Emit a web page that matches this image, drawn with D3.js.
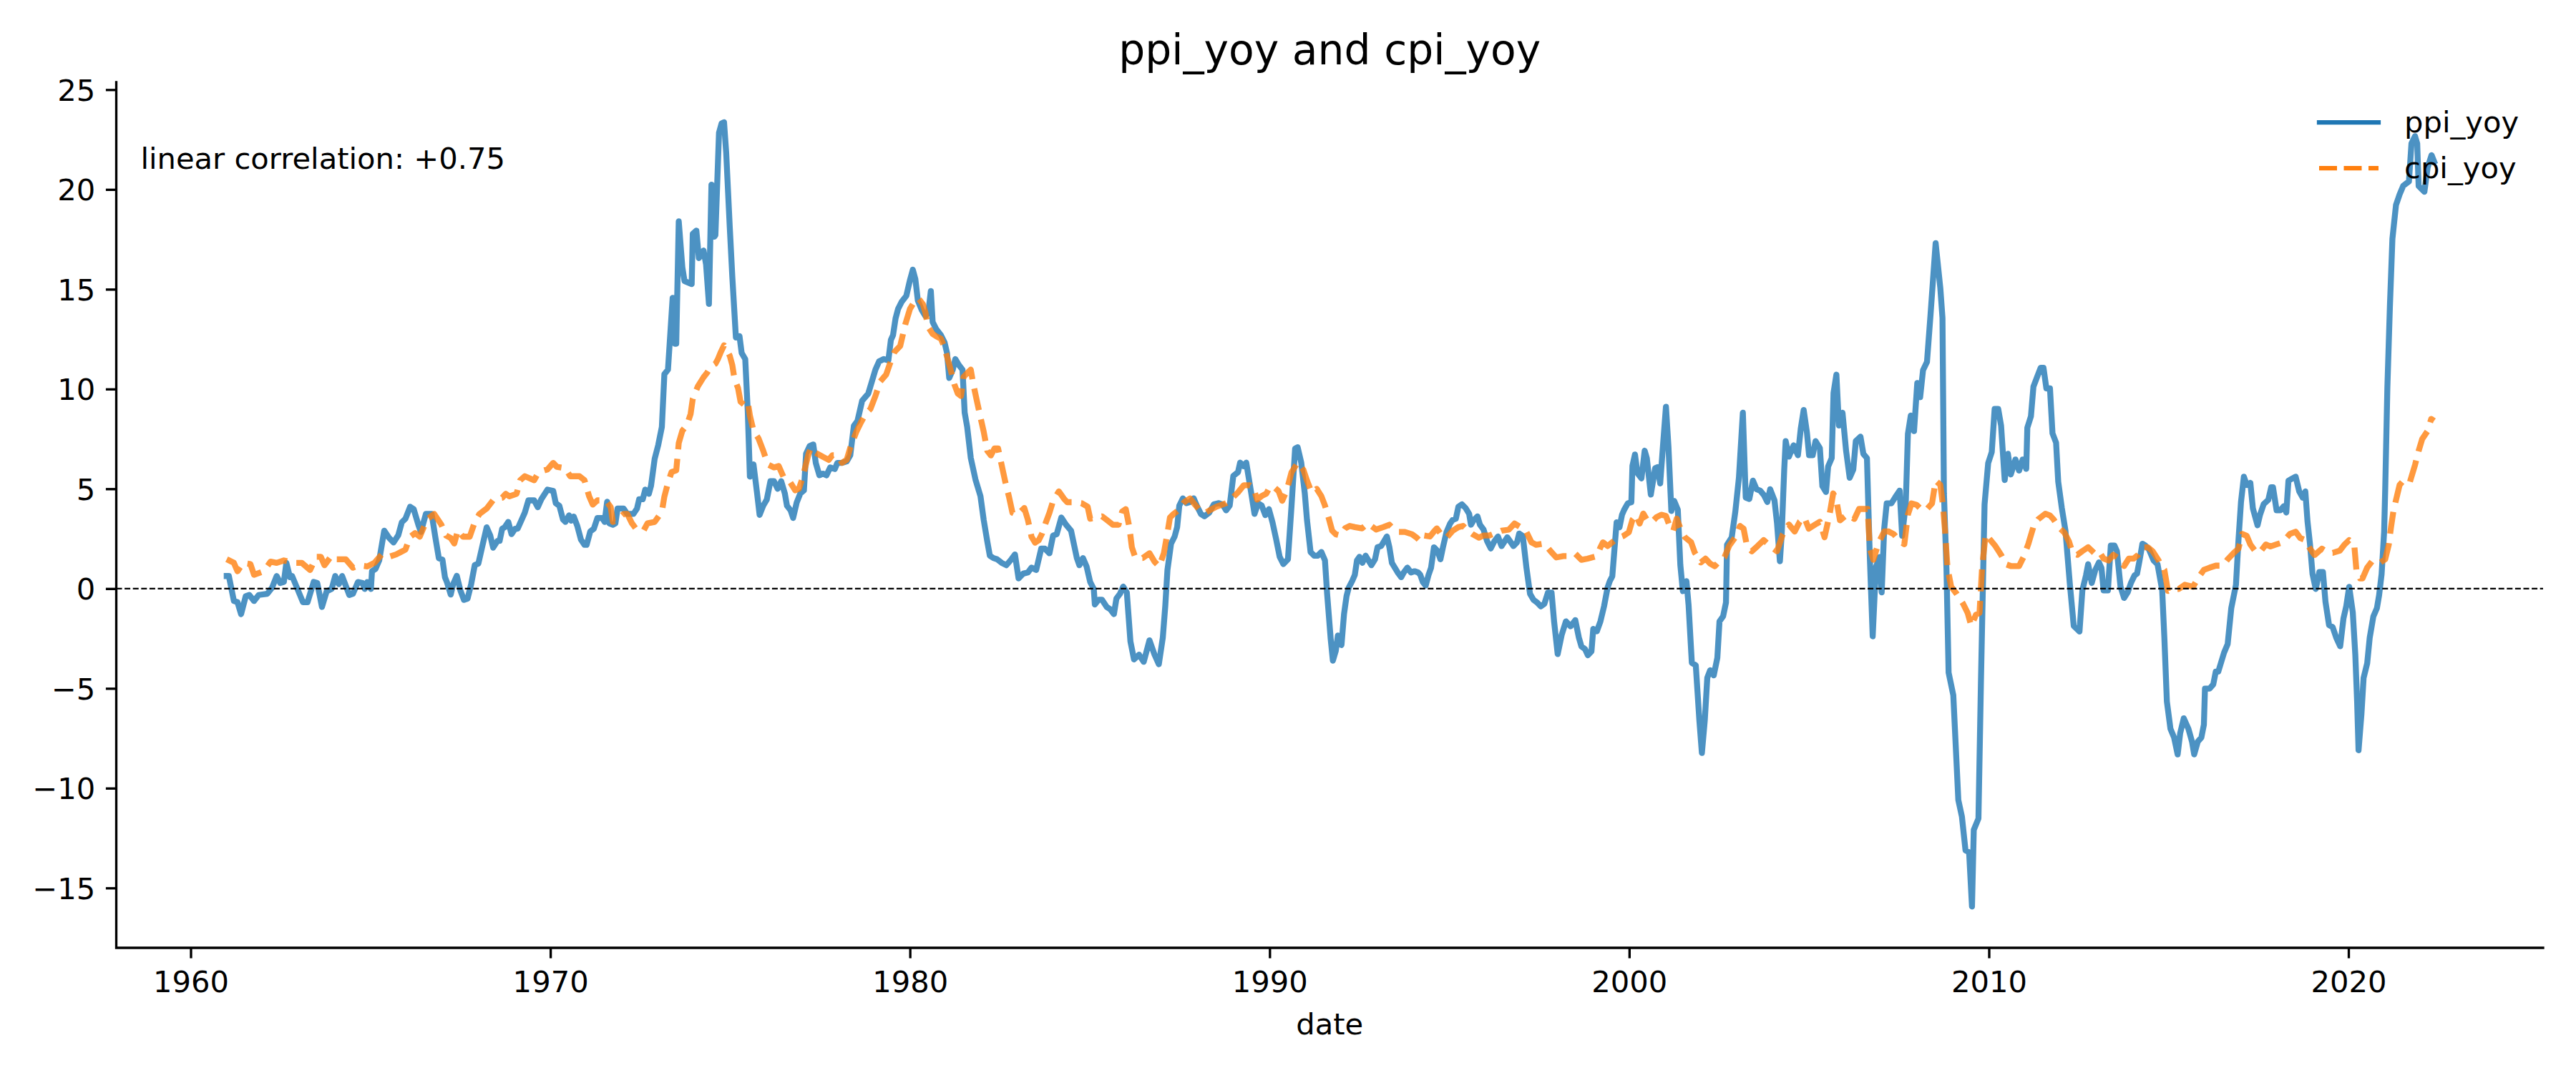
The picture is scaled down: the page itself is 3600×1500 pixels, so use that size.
<!DOCTYPE html>
<html><head><meta charset="utf-8">
<script src="https://cdn.jsdelivr.net/npm/d3@7"></script>
<style>body{margin:0;background:#fff}</style>
</head><body><svg id="c" width="3600" height="1500" style="background:#fff"></svg>
<script>
// ---- data: [fractional year, value] ----
const ppi = [
[1961.0,0.63],[1961.06,0.63],[1961.2,-0.62],[1961.3,-0.68],[1961.4,-1.28],[1961.53,-0.38],[1961.63,-0.32],[1961.76,-0.62],[1961.89,-0.32],
[1962.13,-0.26],[1962.26,0.04],[1962.39,0.63],[1962.49,0.28],[1962.59,0.33],[1962.66,1.29],[1962.76,0.57],[1962.82,0.63],
[1963.12,-0.68],[1963.25,-0.68],[1963.42,0.33],[1963.52,0.28],[1963.65,-0.92],[1963.78,-0.14],[1963.92,-0.02],
[1964.02,0.63],[1964.12,0.22],[1964.21,0.63],[1964.41,-0.32],[1964.51,-0.26],[1964.65,0.33],[1964.78,0.28],[1964.84,-0.02],[1964.91,0.33],
[1965.01,-0.02],[1965.04,0.87],[1965.14,0.99],[1965.24,1.41],[1965.38,2.90],[1965.51,2.55],[1965.64,2.31],[1965.77,2.67],[1965.87,3.32],[1965.97,3.5],
[1966.1,4.1],[1966.2,3.98],[1966.34,3.14],[1966.4,2.84],[1966.54,3.74],[1966.7,3.74],[1966.8,2.6],[1966.9,1.52],
[1967.0,1.45],[1967.07,0.57],[1967.13,0.3],[1967.23,-0.3],[1967.3,0.23],[1967.4,0.64],[1967.5,-0.1],[1967.6,-0.57],[1967.7,-0.5],[1967.8,0.23],[1967.9,1.18],
[1968.0,1.25],[1968.1,2.05],[1968.23,3.07],[1968.33,2.66],[1968.41,2.05],[1968.53,2.39],[1968.59,2.39],[1968.66,3.0],[1968.73,3.07],[1968.83,3.34],[1968.92,2.73],
[1969.02,3.0],[1969.09,3.0],[1969.29,3.81],[1969.39,4.42],[1969.55,4.42],[1969.65,4.08],[1969.75,4.48],[1969.92,4.96],
[1970.08,4.89],[1970.15,4.28],[1970.25,4.15],[1970.35,3.47],[1970.42,3.34],[1970.52,3.67],[1970.58,3.4],[1970.65,3.61],[1970.75,3.14],[1970.85,2.46],[1970.95,2.19],
[1971.01,2.19],[1971.11,2.86],[1971.21,3.0],[1971.31,3.54],[1971.44,3.54],[1971.51,3.34],[1971.58,4.35],[1971.64,3.27],[1971.74,3.2],[1971.81,3.27],[1971.87,4.01],
[1972.04,4.01],[1972.14,3.74],[1972.31,3.74],[1972.41,4.01],[1972.47,4.48],[1972.57,4.48],[1972.64,4.96],[1972.74,4.75],[1972.8,5.16],[1972.9,6.5],
[1973.0,7.2],[1973.1,8.1],[1973.17,10.74],[1973.27,10.97],[1973.4,14.57],[1973.47,12.27],[1973.5,12.27],[1973.57,18.4],[1973.67,16.1],[1973.73,15.41],[1973.93,15.26],[1973.96,17.78],
[1974.06,17.94],[1974.13,16.56],[1974.26,16.94],[1974.33,16.25],[1974.41,14.26],[1974.48,20.24],[1974.56,17.63],[1974.59,17.71],[1974.69,22.84],[1974.76,23.3],[1974.83,23.37],[1974.89,21.84],[1974.99,18.09],
[1975.06,15.64],[1975.16,12.58],[1975.26,12.65],[1975.32,11.81],[1975.42,11.5],[1975.49,8.9],[1975.55,5.61],[1975.65,6.22],[1975.75,4.77],[1975.82,3.69],[1975.92,4.15],
[1976.02,4.46],[1976.12,5.38],[1976.22,5.38],[1976.32,5.0],[1976.42,5.38],[1976.52,4.77],[1976.58,4.15],[1976.68,3.92],[1976.75,3.54],[1976.85,4.31],[1976.95,4.77],
[1977.05,4.92],[1977.11,6.76],[1977.21,7.14],[1977.31,7.22],[1977.38,6.3],[1977.48,5.68],[1977.58,5.76],[1977.68,5.68],[1977.78,6.07],[1977.91,5.99],[1977.98,6.3],
[1978.11,6.3],[1978.24,6.37],[1978.34,6.68],[1978.44,8.16],[1978.54,8.4],[1978.67,9.41],[1978.84,9.77],[1978.94,10.37],
[1979.04,10.97],[1979.14,11.38],[1979.27,11.5],[1979.4,11.44],[1979.47,12.46],[1979.53,12.7],[1979.6,13.54],[1979.67,14.01],[1979.77,14.37],[1979.9,14.67],
[1980.0,15.45],[1980.08,15.98],[1980.15,15.51],[1980.22,14.43],[1980.33,13.95],[1980.43,13.65],[1980.51,13.83],[1980.58,14.91],[1980.63,13.36],[1980.73,13.0],[1980.86,12.7],[1980.96,12.34],
[1981.03,11.8],[1981.09,10.55],[1981.19,10.97],[1981.26,11.5],[1981.36,11.2],[1981.46,10.97],[1981.52,8.82],[1981.59,8.1],[1981.69,6.55],[1981.82,5.47],[1981.96,4.63],
[1982.05,3.44],[1982.15,2.36],[1982.22,1.65],[1982.32,1.53],[1982.42,1.47],[1982.55,1.29],[1982.68,1.17],[1982.82,1.47],[1982.92,1.71],
[1983.02,0.51],[1983.15,0.75],[1983.28,0.81],[1983.38,1.05],[1983.51,0.93],[1983.65,2.0],[1983.75,2.0],[1983.88,1.77],[1983.98,2.66],
[1984.08,2.72],[1984.21,3.56],[1984.34,3.2],[1984.48,2.9],[1984.64,1.53],[1984.71,1.17],[1984.81,1.53],[1984.91,1.11],
[1985.01,0.33],[1985.11,-0.02],[1985.14,-0.8],[1985.24,-0.56],[1985.34,-0.56],[1985.47,-0.92],[1985.57,-1.04],[1985.67,-1.28],[1985.74,-0.5],[1985.84,-0.26],[1985.93,0.1],
[1986.03,-0.2],[1986.13,-2.65],[1986.23,-3.55],[1986.37,-3.31],[1986.5,-3.67],[1986.66,-2.59],[1986.8,-3.31],[1986.92,-3.79],
[1987.03,-2.47],[1987.1,-0.86],[1987.16,0.93],[1987.26,2.25],[1987.36,2.61],[1987.43,3.08],[1987.49,4.16],[1987.59,4.52],[1987.69,4.28],[1987.79,4.34],[1987.89,4.52],[1987.99,4.1],
[1988.09,3.74],[1988.19,3.62],[1988.32,3.8],[1988.45,4.22],[1988.59,4.28],[1988.69,4.22],[1988.79,3.92],[1988.89,4.16],[1988.99,5.65],
[1989.12,5.83],[1989.18,6.31],[1989.28,6.13],[1989.35,6.31],[1989.48,4.88],[1989.58,3.74],[1989.68,4.28],[1989.78,4.16],[1989.88,3.68],[1989.98,3.98],
[1990.08,3.32],[1990.18,2.49],[1990.28,1.59],[1990.38,1.23],[1990.51,1.47],[1990.61,4.16],[1990.71,7.02],[1990.78,7.08],[1990.88,6.31],[1990.98,4.75],
[1991.04,3.44],[1991.14,1.83],[1991.24,1.65],[1991.34,1.65],[1991.44,1.83],[1991.54,1.41],[1991.6,-0.26],[1991.7,-2.53],[1991.76,-3.61],[1991.84,-3.13],[1991.9,-2.35],
[1992.0,-2.83],[1992.07,-1.28],[1992.14,-0.38],[1992.2,0.04],[1992.3,0.39],[1992.37,0.69],[1992.43,1.41],[1992.5,1.59],[1992.58,1.29],[1992.67,1.65],[1992.73,1.47],[1992.83,1.17],[1992.93,1.47],
[1993.0,2.07],[1993.1,2.13],[1993.16,2.31],[1993.26,2.61],[1993.33,2.07],[1993.4,1.29],[1993.46,1.11],[1993.56,0.81],[1993.66,0.57],[1993.73,0.81],[1993.83,1.05],[1993.93,0.81],
[1994.03,0.87],[1994.13,0.81],[1994.19,0.69],[1994.26,0.33],[1994.34,0.15],[1994.42,0.69],[1994.49,1.05],[1994.57,2.07],[1994.67,1.89],[1994.75,1.47],[1994.82,2.07],[1994.92,2.84],
[1995.02,3.26],[1995.09,3.44],[1995.18,3.5],[1995.25,4.1],[1995.35,4.22],[1995.45,4.04],[1995.55,3.74],[1995.6,3.2],[1995.68,3.44],[1995.78,3.62],[1995.85,3.2],[1995.95,2.96],
[1996.05,2.37],[1996.15,2.01],[1996.25,2.37],[1996.35,2.61],[1996.45,2.13],[1996.61,2.57],[1996.78,2.13],[1996.88,2.32],[1996.94,2.76],
[1997.04,2.63],[1997.14,1.06],[1997.24,-0.26],[1997.34,-0.57],[1997.44,-0.7],[1997.54,-0.89],[1997.64,-0.76],[1997.74,-0.2],[1997.84,-0.2],[1997.91,-1.64],
[1998.01,-3.28],[1998.12,-2.33],[1998.24,-1.64],[1998.37,-1.89],[1998.5,-1.58],[1998.6,-2.46],[1998.67,-2.9],[1998.77,-3.03],[1998.85,-3.34],[1998.95,-3.15],
[1999.0,-2.02],[1999.1,-2.14],[1999.2,-1.64],[1999.3,-0.89],[1999.4,0.06],[1999.46,0.37],[1999.53,0.62],[1999.6,2.19],[1999.65,3.32],[1999.73,3.07],[1999.8,3.7],[1999.86,3.95],[1999.96,4.27],
[2000.06,4.33],[2000.09,6.15],[2000.16,6.72],[2000.23,5.78],[2000.34,5.52],[2000.43,6.91],[2000.49,6.53],[2000.6,4.71],[2000.72,6.03],[2000.79,6.09],[2000.86,5.27],[2000.94,7.22],
[2001.02,9.11],[2001.09,7.1],[2001.17,3.89],[2001.25,4.39],[2001.35,3.95],[2001.42,1.19],[2001.49,-0.13],[2001.59,0.37],[2001.65,-0.83],[2001.74,-3.72],[2001.85,-3.84],[2001.95,-6.61],
[2002.02,-8.24],[2002.1,-6.61],[2002.17,-4.47],[2002.25,-4.09],[2002.35,-4.35],[2002.45,-3.47],[2002.51,-1.64],[2002.61,-1.39],[2002.69,-0.7],[2002.72,2.2],[2002.85,2.57],[2002.95,3.85],
[2003.05,5.55],[2003.16,8.81],[2003.24,4.56],[2003.34,4.49],[2003.44,5.41],[2003.54,4.98],[2003.64,4.91],[2003.74,4.7],[2003.84,4.34],[2003.92,4.98],
[2004.04,4.42],[2004.11,3.28],[2004.19,1.37],[2004.24,2.72],[2004.31,5.97],[2004.35,7.39],[2004.44,6.61],[2004.57,7.18],[2004.69,6.68],[2004.77,8.03],[2004.85,8.95],[2004.94,7.82],
[2005.0,6.68],[2005.1,6.68],[2005.18,7.39],[2005.3,7.04],[2005.37,5.13],[2005.47,4.84],[2005.53,6.12],[2005.63,6.54],[2005.68,9.8],[2005.76,10.72],[2005.83,8.17],[2005.93,8.81],
[2006.03,6.9],[2006.13,5.55],[2006.23,5.97],[2006.3,7.39],[2006.43,7.61],[2006.51,6.75],[2006.61,6.54],[2006.69,1.58],[2006.77,-2.39],[2006.86,1.09],[2006.96,1.58],
[2007.02,-0.19],[2007.09,3.0],[2007.16,4.27],[2007.29,4.27],[2007.39,4.56],[2007.52,4.91],[2007.59,2.64],[2007.69,4.27],[2007.75,7.75],[2007.83,8.67],[2007.92,7.89],
[2008.01,10.3],[2008.09,9.59],[2008.17,10.94],[2008.28,11.36],[2008.38,13.77],[2008.52,17.31],[2008.65,15.05],[2008.71,13.56],[2008.75,4.78],[2008.82,1.03],[2008.88,-4.21],
[2009.01,-5.34],[2009.15,-10.59],[2009.25,-11.43],[2009.35,-13.12],[2009.45,-13.21],[2009.53,-15.93],[2009.58,-12.09],[2009.71,-11.52],[2009.78,-4.59],[2009.88,4.22],[2009.98,6.28],
[2010.08,6.84],[2010.16,9.0],[2010.26,9.0],[2010.34,8.16],[2010.44,5.44],[2010.53,6.75],[2010.61,5.72],[2010.74,6.47],[2010.84,5.91],[2010.94,6.47],
[2011.04,6.0],[2011.07,8.06],[2011.17,8.63],[2011.24,10.12],[2011.34,10.59],[2011.44,11.06],[2011.52,11.06],[2011.6,10.03],[2011.7,10.03],[2011.77,7.78],[2011.87,7.31],[2011.93,5.35],
[2012.03,4.03],[2012.13,2.91],[2012.25,0.28],[2012.36,-1.87],[2012.52,-2.15],[2012.6,-0.09],[2012.7,0.66],[2012.76,1.22],[2012.86,0.28],[2012.96,0.94],
[2013.06,1.31],[2013.13,1.03],[2013.19,-0.09],[2013.31,-0.09],[2013.39,2.16],[2013.49,2.16],[2013.56,1.88],[2013.66,0.1],[2013.76,-0.47],[2013.86,-0.19],[2013.95,0.28],
[2014.05,0.66],[2014.12,0.75],[2014.19,1.41],[2014.27,2.25],[2014.35,2.16],[2014.45,1.97],[2014.58,1.41],[2014.69,1.22],[2014.82,-0.09],[2014.88,-2.46],[2014.95,-5.65],
[2015.05,-7.03],[2015.15,-7.46],[2015.25,-8.31],[2015.32,-7.25],[2015.42,-6.5],[2015.55,-7.03],[2015.65,-7.67],[2015.71,-8.31],[2015.81,-7.67],[2015.91,-7.46],[2015.98,-6.82],
[2016.01,-5.01],[2016.14,-5.01],[2016.24,-4.8],[2016.31,-4.16],[2016.38,-4.16],[2016.54,-3.21],[2016.64,-2.78],[2016.74,-0.98],[2016.87,0.19],[2016.94,2.43],
[2017.01,4.34],[2017.09,5.61],[2017.17,5.19],[2017.27,5.3],[2017.34,4.02],[2017.47,3.17],[2017.54,3.7],[2017.64,4.23],[2017.77,4.45],[2017.85,5.08],[2017.9,5.08],
[2018.0,3.92],[2018.1,3.92],[2018.2,4.13],[2018.27,3.81],[2018.33,5.4],[2018.43,5.51],[2018.53,5.61],[2018.63,4.87],[2018.73,4.55],[2018.8,4.87],[2018.86,3.38],[2018.93,2.22],
[2019.0,0.73],[2019.09,-0.02],[2019.19,0.83],[2019.29,0.83],[2019.36,-0.66],[2019.46,-1.83],[2019.56,-1.93],[2019.66,-2.46],[2019.77,-2.89],[2019.86,-1.51],[2019.94,-0.87],
[2020.02,0.09],[2020.12,-1.19],[2020.19,-3.31],[2020.24,-5.65],[2020.28,-8.1],[2020.36,-6.29],[2020.42,-4.48],[2020.52,-3.74],[2020.59,-2.46],[2020.69,-1.4],[2020.79,-0.98],[2020.85,-0.34],[2020.92,0.73],[2020.99,2.85],
[2021.02,4.98],[2021.08,10.08],[2021.15,14.12],[2021.22,17.52],[2021.32,19.22],[2021.42,19.75],[2021.52,20.18],[2021.68,20.4],[2021.75,22.3],[2021.85,22.67],[2021.91,22.3],[2021.95,20.17],
[2022.11,19.88],[2022.2,21.1],[2022.31,21.72],[2022.38,21.4]
];
const cpi = [
[1961.0,1.47],[1961.2,1.29],[1961.3,0.87],[1961.46,1.29],[1961.66,1.23],[1961.76,0.69],
[1962.03,0.87],[1962.22,1.35],[1962.39,1.29],[1962.59,1.41],[1962.72,1.35],[1962.86,1.29],
[1963.09,1.29],[1963.32,0.93],[1963.49,1.59],[1963.62,1.59],[1963.72,1.17],[1963.92,1.65],
[1964.05,1.47],[1964.31,1.47],[1964.51,1.05],[1964.68,1.17],[1964.91,1.11],
[1965.11,1.29],[1965.31,1.71],[1965.51,1.59],[1965.71,1.71],[1965.84,1.83],[1965.97,1.95],
[1966.1,2.6],[1966.24,2.78],[1966.37,2.6],[1966.57,3.47],[1966.77,3.74],[1966.97,3.2],
[1967.1,2.66],[1967.23,2.53],[1967.33,2.26],[1967.43,2.93],[1967.57,2.6],[1967.76,2.6],[1967.9,3.34],
[1968.03,3.74],[1968.23,4.01],[1968.43,4.48],[1968.66,4.55],[1968.76,4.75],[1968.86,4.62],
[1969.06,4.75],[1969.16,5.43],[1969.29,5.63],[1969.55,5.43],[1969.65,5.76],[1969.79,5.9],[1969.92,5.97],
[1970.08,6.3],[1970.18,6.1],[1970.42,6.03],[1970.55,5.63],[1970.81,5.63],[1970.95,5.43],
[1971.08,4.62],[1971.18,4.21],[1971.31,4.42],[1971.54,4.42],[1971.68,4.08],[1971.74,3.34],[1971.87,3.47],
[1972.04,3.74],[1972.14,3.74],[1972.27,3.27],[1972.41,2.93],[1972.6,2.93],[1972.7,3.27],[1972.9,3.34],
[1973.1,3.85],[1973.17,4.61],[1973.27,5.3],[1973.37,5.84],[1973.5,5.92],[1973.57,7.29],[1973.67,7.91],[1973.8,8.21],[1973.9,8.75],[1973.96,9.51],
[1974.1,10.13],[1974.26,10.59],[1974.36,10.82],[1974.46,11.12],[1974.59,11.27],[1974.66,11.5],[1974.73,11.81],[1974.83,12.19],[1974.89,12.04],[1974.99,11.66],
[1975.06,11.2],[1975.12,10.51],[1975.22,10.05],[1975.29,9.36],[1975.39,9.21],[1975.49,9.36],[1975.55,8.67],[1975.65,7.91],[1975.79,7.52],[1975.92,6.91],
[1976.05,6.22],[1976.22,6.07],[1976.35,6.14],[1976.48,5.61],[1976.65,5.38],[1976.81,4.92],[1976.91,5.0],
[1977.01,5.53],[1977.18,6.76],[1977.25,7.06],[1977.35,6.83],[1977.58,6.6],[1977.74,6.45],[1977.84,6.68],[1977.98,6.68],
[1978.11,6.3],[1978.24,6.45],[1978.34,7.06],[1978.51,7.86],[1978.64,8.34],[1978.77,8.76],[1978.9,9.0],
[1979.04,9.65],[1979.17,10.37],[1979.34,10.73],[1979.43,11.2],[1979.57,11.86],[1979.73,12.16],[1979.87,13.24],
[1980.0,14.01],[1980.1,14.31],[1980.23,14.55],[1980.36,14.25],[1980.43,13.83],[1980.5,13.12],[1980.63,12.76],[1980.73,12.64],[1980.86,12.52],[1980.93,12.22],
[1981.03,11.62],[1981.13,10.97],[1981.23,10.25],[1981.33,9.77],[1981.42,9.65],[1981.49,10.61],[1981.62,10.85],[1981.69,10.97],[1981.76,10.25],[1981.86,9.41],[1981.96,8.58],
[1982.05,7.86],[1982.15,6.9],[1982.25,6.67],[1982.35,7.02],[1982.45,7.02],[1982.55,6.19],[1982.65,5.35],[1982.75,4.63],[1982.85,3.8],[1982.98,3.68],
[1983.18,4.04],[1983.28,3.44],[1983.38,2.6],[1983.48,2.3],[1983.58,2.42],[1983.68,2.78],[1983.78,3.32],[1983.88,3.8],[1983.98,4.39],
[1984.14,4.87],[1984.28,4.51],[1984.37,4.33],[1984.54,4.33],[1984.77,4.28],[1984.94,4.1],
[1985.01,3.5],[1985.14,3.56],[1985.34,3.62],[1985.47,3.44],[1985.64,3.2],[1985.8,3.2],[1985.9,3.86],
[1986.0,3.98],[1986.1,3.08],[1986.17,2.07],[1986.27,1.53],[1986.47,1.53],[1986.66,1.77],[1986.8,1.35],[1986.93,1.11],
[1987.06,1.77],[1987.16,2.79],[1987.23,3.56],[1987.33,3.74],[1987.46,3.92],[1987.63,4.34],[1987.79,4.52],[1987.92,4.22],
[1988.06,3.92],[1988.22,3.8],[1988.39,3.98],[1988.52,4.1],[1988.79,4.28],[1988.92,4.46],
[1989.12,4.82],[1989.28,5.18],[1989.45,5.18],[1989.55,5.06],[1989.65,4.46],[1989.78,4.64],[1989.91,4.76],
[1990.01,5.12],[1990.14,5.06],[1990.25,4.88],[1990.35,4.4],[1990.48,4.94],[1990.61,5.83],[1990.78,6.31],[1990.94,5.95],
[1991.04,5.41],[1991.17,4.82],[1991.31,5.0],[1991.44,4.63],[1991.54,4.16],[1991.64,3.56],[1991.74,2.9],[1991.84,2.72],[1991.97,2.66],
[1992.1,3.02],[1992.23,3.14],[1992.37,3.08],[1992.57,3.02],[1992.73,3.26],[1992.87,3.08],[1992.96,2.96],
[1993.16,3.08],[1993.33,3.2],[1993.46,2.96],[1993.59,2.84],[1993.76,2.84],[1993.96,2.72],
[1994.09,2.55],[1994.19,2.37],[1994.29,2.66],[1994.46,2.61],[1994.56,2.84],[1994.65,3.02],[1994.79,2.66],[1994.92,2.55],
[1995.09,2.9],[1995.25,3.08],[1995.38,3.14],[1995.48,2.96],[1995.65,2.72],[1995.82,2.55],[1995.95,2.66],
[1996.11,2.66],[1996.28,2.78],[1996.45,2.9],[1996.65,2.95],[1996.81,3.26],[1996.98,3.07],
[1997.11,2.95],[1997.28,2.32],[1997.41,2.19],[1997.64,2.26],[1997.81,1.88],[1997.97,1.56],
[1998.17,1.63],[1998.34,1.63],[1998.5,1.75],[1998.67,1.44],[1998.84,1.5],
[1999.1,1.63],[1999.2,2.07],[1999.27,2.32],[1999.4,2.13],[1999.53,2.32],[1999.66,2.51],[1999.83,2.63],[1999.99,2.82],
[2000.09,3.45],[2000.19,3.7],[2000.29,3.26],[2000.39,3.76],[2000.49,3.45],[2000.62,3.32],[2000.76,3.58],[2000.89,3.7],
[2001.02,3.64],[2001.12,3.14],[2001.22,2.88],[2001.32,3.51],[2001.45,2.88],[2001.55,2.57],[2001.72,2.32],[2001.82,1.81],[2001.99,1.31],
[2002.12,1.5],[2002.25,1.25],[2002.38,1.12],[2002.51,1.38],[2002.65,1.58],[2002.78,2.15],[2002.95,2.57],
[2003.08,3.14],[2003.18,3.0],[2003.28,2.08],[2003.41,1.87],[2003.58,2.15],[2003.74,2.43],[2003.91,2.15],
[2004.11,1.87],[2004.27,2.72],[2004.44,3.21],[2004.6,2.86],[2004.74,3.35],[2004.87,3.56],[2004.99,3.0],
[2005.17,3.21],[2005.3,3.35],[2005.43,2.57],[2005.57,3.71],[2005.67,4.77],[2005.76,4.42],[2005.86,3.42],
[2006.06,3.71],[2006.26,3.49],[2006.39,3.99],[2006.63,3.99],[2006.69,2.01],[2006.79,1.44],[2006.93,2.29],
[2007.09,2.86],[2007.22,2.86],[2007.36,2.72],[2007.49,2.43],[2007.65,2.22],[2007.75,3.71],[2007.85,4.27],[2007.99,4.2],
[2008.15,3.92],[2008.28,3.99],[2008.42,4.27],[2008.52,5.41],[2008.65,5.2],[2008.72,4.22],[2008.78,2.91],[2008.85,1.03],[2008.95,0.1],
[2009.11,-0.28],[2009.28,-0.75],[2009.41,-1.22],[2009.51,-1.87],[2009.64,-1.31],[2009.74,-1.22],[2009.81,1.03],[2009.91,2.72],
[2010.04,2.44],[2010.17,2.16],[2010.34,1.69],[2010.47,1.22],[2010.61,1.13],[2010.84,1.13],[2010.97,1.6],
[2011.1,2.25],[2011.24,3.1],[2011.37,3.47],[2011.57,3.75],[2011.7,3.66],[2011.8,3.47],[2011.93,3.1],
[2012.1,2.81],[2012.23,2.35],[2012.33,1.78],[2012.46,1.69],[2012.6,1.88],[2012.76,2.07],[2012.93,1.78],
[2013.06,1.88],[2013.19,1.5],[2013.33,1.41],[2013.46,1.69],[2013.62,1.5],[2013.76,1.13],[2013.89,1.5],
[2014.02,1.5],[2014.15,1.69],[2014.29,2.07],[2014.42,2.07],[2014.55,1.88],[2014.72,1.41],[2014.79,1.15],[2014.88,0.94],[2014.98,-0.12],
[2015.12,-0.02],[2015.28,-0.02],[2015.45,0.19],[2015.68,0.09],[2015.81,0.51],[2015.98,0.94],
[2016.14,1.05],[2016.31,1.15],[2016.51,1.15],[2016.64,1.47],[2016.81,1.79],[2016.94,2.0],
[2017.04,2.74],[2017.17,2.64],[2017.27,2.21],[2017.44,1.79],[2017.57,1.9],[2017.7,2.21],[2017.83,2.11],[2017.99,2.21],
[2018.17,2.32],[2018.37,2.74],[2018.53,2.85],[2018.66,2.53],[2018.8,2.43],[2018.93,2.0],
[2019.06,1.68],[2019.26,2.0],[2019.43,1.79],[2019.56,1.79],[2019.76,1.9],[2019.89,2.21],
[2020.02,2.43],[2020.16,2.21],[2020.22,0.94],[2020.32,0.51],[2020.39,0.51],[2020.52,1.05],[2020.65,1.36],[2020.85,1.26],
[2021.02,1.47],[2021.12,2.21],[2021.18,3.06],[2021.25,3.91],[2021.35,4.66],[2021.42,5.19],[2021.52,5.4],[2021.7,5.3],[2021.85,6.2],[2021.95,6.9],
[2022.05,7.5],[2022.2,7.9],[2022.3,8.5],[2022.38,8.4]
];
const seriesNames = ["ppi_yoy", "cpi_yoy"];
const seriesColors = ["#1f77b4", "#ff7f0e"];
const xTickYears = [1960, 1970, 1980, 1990, 2000, 2010, 2020];
const yTicks = [-15, -10, -5, 0, 5, 10, 15, 20, 25];
const titleText = "ppi_yoy and cpi_yoy";
const corrText = "linear correlation: +0.75";
const xLabel = "date";

// ---- layout ----
const L = 162.5, R = 3554, T = 115, B = 1325;
const FS = 41.67, FONT = "DejaVu Sans";
function toDate(yf) {
  const yr = Math.floor(yf);
  const s = Date.UTC(yr, 0, 1), e = Date.UTC(yr + 1, 0, 1);
  return new Date(s + (yf - yr) * (e - s));
}
const x = d3.scaleUtc().domain([toDate(1957.93), toDate(2025.41)]).range([L, R]);
const y = d3.scaleLinear().domain([-18.0, 25.37]).range([B, T]);

const svg = d3.select("#c");
svg.append("rect").attr("width", 3600).attr("height", 1500).attr("fill", "#fff");

const line = d3.line().x(d => x(toDate(d[0]))).y(d => y(d[1]));

svg.append("path").datum(ppi).attr("d", line)
  .attr("fill", "none").attr("stroke", seriesColors[0]).attr("stroke-opacity", 0.8)
  .attr("stroke-width", 8.3).attr("stroke-linejoin", "round").attr("stroke-linecap", "square");
svg.append("path").datum(cpi).attr("d", line)
  .attr("fill", "none").attr("stroke", seriesColors[1]).attr("stroke-opacity", 0.8)
  .attr("stroke-width", 8.3).attr("stroke-linejoin", "round").attr("stroke-linecap", "butt")
  .attr("stroke-dasharray", "30.8,13.3");

// zero line
svg.append("line").attr("x1", L).attr("x2", R).attr("y1", y(0)).attr("y2", y(0))
  .attr("stroke", "#000").attr("stroke-width", 2.2).attr("stroke-dasharray", "8,3.6");

// axes
const gx = svg.append("g").attr("transform", `translate(0,${B})`)
  .call(d3.axisBottom(x).tickValues(xTickYears.map(toDate)).tickFormat(d3.utcFormat("%Y"))
    .tickSize(14.6).tickPadding(14.6).tickSizeOuter(0));
gx.attr("font-size", FS).attr("font-family", FONT);
gx.select(".domain").remove();
gx.selectAll(".tick line").attr("stroke", "#000").attr("stroke-width", 3.33);
gx.selectAll(".tick text").attr("fill", "#000").attr("dy", "0.79em");

const gy = svg.append("g").attr("transform", `translate(${L},0)`)
  .call(d3.axisLeft(y).tickValues(yTicks).tickFormat(d => d < 0 ? "\u2212" + Math.abs(d) : String(d))
    .tickSize(14.6).tickPadding(14.6).tickSizeOuter(0));
gy.attr("font-size", FS).attr("font-family", FONT);
gy.select(".domain").remove();
gy.selectAll(".tick line").attr("stroke", "#000").attr("stroke-width", 3.33);
gy.selectAll(".tick text").attr("fill", "#000").attr("dy", "0.36em");

// spines
svg.append("path").attr("d", `M${L},${T}V${B}H${R}`).attr("fill", "none")
  .attr("stroke", "#000").attr("stroke-width", 3.33).attr("stroke-linecap", "square").attr("stroke-linejoin", "miter");

// title, labels, annotation
svg.append("text").attr("x", (L + R) / 2).attr("y", 90).attr("text-anchor", "middle")
  .attr("font-family", FONT).attr("font-size", 58.33).attr("fill", "#000").text(titleText);
svg.append("text").attr("x", (L + R) / 2).attr("y", 1446).attr("text-anchor", "middle")
  .attr("font-family", FONT).attr("font-size", FS).attr("fill", "#000").text(xLabel);
svg.append("text").attr("x", 196.4).attr("y", 236).attr("text-anchor", "start")
  .attr("font-family", FONT).attr("font-size", FS).attr("fill", "#000").text(corrText);

// legend
const lg = svg.append("g");
const legY = [171, 235];
seriesNames.forEach((n, i) => {
  const ln = lg.append("line").attr("x1", 3241).attr("x2", 3324).attr("y1", legY[i]).attr("y2", legY[i])
    .attr("stroke", seriesColors[i]).attr("stroke-width", 6.25);
  if (i === 1) ln.attr("stroke-dasharray", "25,9.5").attr("stroke-linecap", "butt");
  else ln.attr("stroke-linecap", "square");
  lg.append("text").attr("x", 3360).attr("y", legY[i] + 14).attr("font-family", FONT)
    .attr("font-size", FS).attr("fill", "#000").text(n);
});
</script></body></html>
